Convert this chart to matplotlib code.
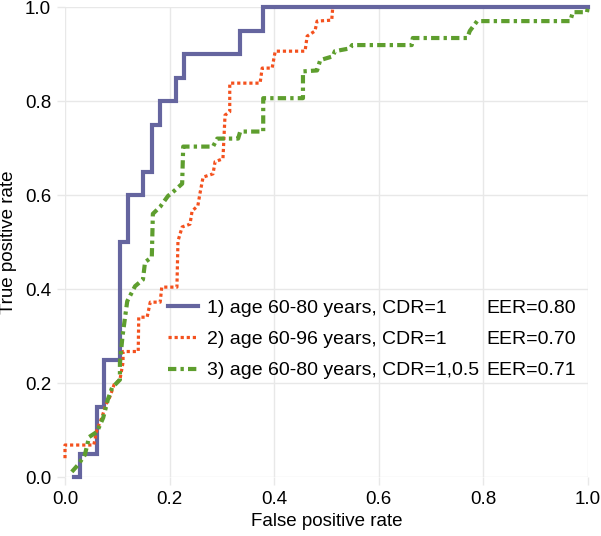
import matplotlib
matplotlib.use("Agg")
import matplotlib.pyplot as plt

plt.rcParams['font.family'] = ['Liberation Sans', 'DejaVu Sans']

# ROC curves (false positive rate, true positive rate)
fpr1 = [0.017, 0.029, 0.029, 0.061, 0.061, 0.075, 0.075, 0.106, 0.106, 0.120, 0.120,
        0.149, 0.149, 0.166, 0.166, 0.182, 0.182, 0.212, 0.212, 0.228, 0.228, 0.335,
        0.335, 0.379, 0.379, 1.0]
tpr1 = [0.0, 0.0, 0.05, 0.05, 0.15, 0.15, 0.25, 0.25, 0.5, 0.5, 0.6,
        0.6, 0.65, 0.65, 0.75, 0.75, 0.8, 0.8, 0.85, 0.85, 0.9, 0.9,
        0.95, 0.95, 1.0, 1.0]

fpr2 = [0.0, 0.0, 0.055, 0.061, 0.071, 0.078, 0.086, 0.094, 0.105, 0.111, 0.111, 0.140,
        0.141, 0.157, 0.163, 0.182, 0.185, 0.214, 0.216, 0.224, 0.239, 0.243, 0.254,
        0.258, 0.264, 0.283, 0.287, 0.302, 0.306, 0.315, 0.315, 0.373, 0.377, 0.396,
        0.402, 0.459, 0.463, 0.478, 0.482, 0.510, 0.512]
tpr2 = [0.04, 0.068, 0.068, 0.10, 0.128, 0.154, 0.171, 0.197, 0.207, 0.244, 0.267, 0.267,
        0.34, 0.34, 0.372, 0.372, 0.404, 0.404, 0.502, 0.532, 0.538, 0.566, 0.577,
        0.603, 0.638, 0.645, 0.671, 0.677, 0.77, 0.777, 0.838, 0.838, 0.87, 0.87,
        0.906, 0.906, 0.938, 0.949, 0.97, 0.972, 1.0]

fpr3 = [0.013, 0.025, 0.038, 0.046, 0.061, 0.073, 0.082, 0.090, 0.105, 0.105, 0.110,
        0.119, 0.134, 0.149, 0.153, 0.166, 0.168, 0.182, 0.197, 0.207, 0.224, 0.226,
        0.283, 0.291, 0.331, 0.335, 0.379, 0.379, 0.455, 0.455, 0.482, 0.488, 0.512,
        0.516, 0.545, 0.549, 0.663, 0.665, 0.769, 0.774, 0.788, 0.966, 0.971, 0.998, 1.0]
tpr3 = [0.011, 0.026, 0.047, 0.085, 0.096, 0.126, 0.165, 0.19, 0.207, 0.243, 0.30,
        0.374, 0.406, 0.42, 0.457, 0.468, 0.56, 0.575, 0.598, 0.607, 0.624, 0.703,
        0.703, 0.72, 0.72, 0.735, 0.735, 0.806, 0.806, 0.863, 0.865, 0.887, 0.895,
        0.906, 0.912, 0.919, 0.919, 0.934, 0.934, 0.949, 0.970, 0.970, 0.989, 0.989, 1.0]

labels = ['1) age 60-80 years, CDR=1', '2) age 60-96 years, CDR=1',
          '3) age 60-80 years, CDR=1,0.5']
eers = ['EER=0.80', 'EER=0.70', 'EER=0.71']
ticks = [0.0, 0.2, 0.4, 0.6, 0.8, 1.0]

fig = plt.figure(figsize=(6.01, 5.36), dpi=100)
ax = fig.add_axes([65/601, 1-477/536, 523/601, 470/536])

l1, = ax.plot(fpr1, tpr1, color='#65659f', lw=3.0, solid_joinstyle='miter', clip_on=False)
l2, = ax.plot(fpr2, tpr2, color='#f4511e', lw=2.3, linestyle=(0, (1, 0.9)), clip_on=False)
l3, = ax.plot(fpr3, tpr3, color='#5e9e2e', lw=3.0, linestyle=(0, (2, 1, 0.8, 1)), clip_on=False)

ax.set_xlim(0, 1)
ax.set_ylim(0, 1)
ax.set_xticks(ticks)
ax.set_yticks(ticks)
ax.set_xticklabels(['%.1f' % t for t in ticks])
ax.set_yticklabels(['%.1f' % t for t in ticks])
ax.grid(True, color='#e8e8e8', lw=1)
ax.set_axisbelow(True)
for s in ax.spines.values():
    s.set_visible(False)
ax.tick_params(length=6, width=1, color='#e8e8e8', labelsize=13.5, pad=4)
ax.set_xlabel('False positive rate', fontsize=13.5, labelpad=4)
ax.set_ylabel('True positive rate', fontsize=13.5, labelpad=6)

# second legend column holds the EER values
blank = [plt.Line2D([], [], alpha=0) for _ in eers]
ax.legend([l1, l2, l3] + blank, labels + eers, ncol=2, frameon=False, fontsize=14,
          loc='center left', bbox_to_anchor=(0.197, 0.293), borderpad=0, borderaxespad=0,
          handlelength=1.55, handletextpad=0.45, labelspacing=0.7, columnspacing=-1.6)

fig.savefig('out.png', dpi=100)
